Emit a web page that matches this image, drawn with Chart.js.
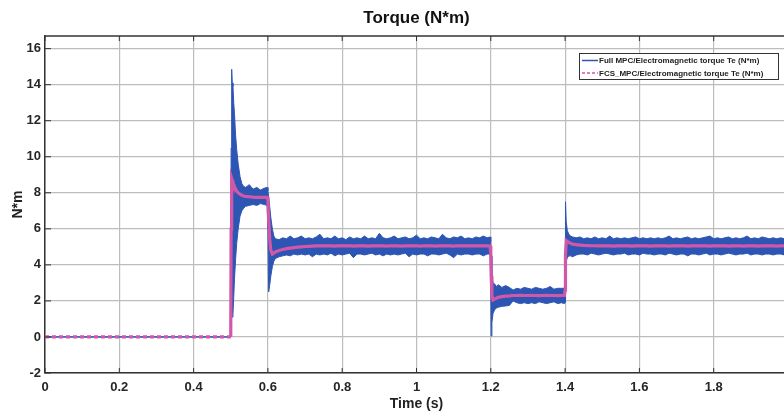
<!DOCTYPE html>
<html lang="en">
<head>
  <meta charset="UTF-8">
  <title>Torque (N*m)</title>
  <style>
    html, body { margin: 0; padding: 0; background: #fff; overflow: hidden; }
    #wrap { width: 800px; height: 416px; }
  </style>
</head>
<body>
  <div id="wrap"><canvas id="torque"></canvas></div>
  <script src="https://cdn.jsdelivr.net/npm/chart.js"></script>
  <script>
    // Tempo (s) das amostras
    const time = [
      0, 0.5, 0.501, 0.5025, 0.504, 0.506, 0.508, 0.51, 0.513, 0.516,
      0.52, 0.525, 0.53, 0.535, 0.54, 0.55, 0.56, 0.57, 0.58, 0.59,
      0.598, 0.6, 0.602, 0.605, 0.608, 0.612, 0.616, 0.62, 0.63, 0.64,
      0.65, 0.66, 0.67, 0.68, 0.69, 0.70, 0.71, 0.72, 0.73, 0.74,
      0.75, 0.76, 0.77, 0.78, 0.79, 0.80, 0.81, 0.82, 0.83, 0.84,
      0.85, 0.86, 0.87, 0.88, 0.89, 0.90, 0.91, 0.92, 0.93, 0.94,
      0.95, 0.96, 0.97, 0.98, 0.99, 1.00, 1.01, 1.02, 1.03, 1.04,
      1.05, 1.06, 1.07, 1.08, 1.09, 1.10, 1.11, 1.12, 1.13, 1.14,
      1.15, 1.16, 1.17, 1.18, 1.19, 1.198, 1.2, 1.201, 1.203, 1.206,
      1.21, 1.215, 1.22, 1.23, 1.24, 1.25, 1.26, 1.27, 1.28, 1.29,
      1.30, 1.31, 1.32, 1.33, 1.34, 1.35, 1.36, 1.37, 1.38, 1.39,
      1.398, 1.4, 1.401, 1.403, 1.406, 1.41, 1.415, 1.42, 1.43, 1.44,
      1.45, 1.46, 1.47, 1.48, 1.49, 1.50, 1.51, 1.52, 1.53, 1.54,
      1.55, 1.56, 1.57, 1.58, 1.59, 1.60, 1.61, 1.62, 1.63, 1.64,
      1.65, 1.66, 1.67, 1.68, 1.69, 1.70, 1.71, 1.72, 1.73, 1.74,
      1.75, 1.76, 1.77, 1.78, 1.79, 1.80, 1.81, 1.82, 1.83, 1.84,
      1.85, 1.86, 1.87, 1.88, 1.89, 1.90, 1.91, 1.92, 1.93, 1.94,
      1.95, 1.96, 1.97, 1.98, 1.99, 2.0
    ];

    // Full MPC: envelope superior do sinal ruidoso
    const fullHi = [
      0, 0, 10.5, 14.85, 14.1, 13.9, 13.0, 12.4, 11.2, 10.4,
      9.6, 8.9, 8.5, 8.35, 8.3, 8.45, 8.2, 8.3, 8.15, 8.25,
      8.3, 8.1, 7.8, 7.2, 6.6, 6.0, 5.6, 5.45, 5.4, 5.5,
      5.45, 5.6, 5.45, 5.5, 5.6, 5.45, 5.5, 5.45, 5.55, 5.7,
      5.45, 5.5, 5.45, 5.6, 5.45, 5.5, 5.4, 5.55, 5.45, 5.5,
      5.45, 5.6, 5.45, 5.5, 5.45, 5.75, 5.5, 5.45, 5.5, 5.6,
      5.45, 5.5, 5.55, 5.45, 5.5, 5.65, 5.45, 5.5, 5.45, 5.55,
      5.5, 5.45, 5.7, 5.5, 5.45, 5.55, 5.5, 5.6, 5.45, 5.5,
      5.45, 5.55, 5.5, 5.6, 5.5, 5.55, 5.3, 4.5, 3.4, 3.0,
      2.95, 2.8, 2.9, 2.75, 2.85, 2.75, 2.6, 2.7, 2.65, 2.75,
      2.7, 2.65, 2.75, 2.7, 2.65, 2.7, 2.8, 2.65, 2.7, 2.7,
      2.7, 3.5, 7.5, 6.4, 5.9, 5.7, 5.6, 5.55, 5.5, 5.55,
      5.45, 5.5, 5.45, 5.55, 5.45, 5.5, 5.45, 5.6, 5.45, 5.5,
      5.45, 5.5, 5.45, 5.5, 5.55, 5.45, 5.5, 5.45, 5.5, 5.45,
      5.5, 5.45, 5.5, 5.6, 5.45, 5.5, 5.45, 5.5, 5.55, 5.45,
      5.5, 5.45, 5.5, 5.55, 5.6, 5.45, 5.5, 5.45, 5.5, 5.55,
      5.45, 5.5, 5.45, 5.5, 5.6, 5.45, 5.5, 5.45, 5.55, 5.5,
      5.45, 5.5, 5.45, 5.5, 5.45, 5.5
    ];

    // Full MPC: envelope inferior
    const fullLo = [
      0, 0, 1.5, 1.2, 1.1, 1.3, 2.2, 3.2, 4.3, 5.2,
      6.0, 6.7, 7.0, 7.15, 7.25, 7.3, 7.35, 7.3, 7.4, 7.35,
      7.3, 6.0, 2.5, 2.9, 3.4, 3.9, 4.2, 4.35, 4.45, 4.5,
      4.55, 4.5, 4.6, 4.55, 4.6, 4.55, 4.6, 4.45, 4.6, 4.55,
      4.6, 4.55, 4.65, 4.5, 4.6, 4.55, 4.6, 4.65, 4.4, 4.6,
      4.6, 4.55, 4.6, 4.65, 4.55, 4.6, 4.5, 4.6, 4.55, 4.6,
      4.55, 4.6, 4.65, 4.45, 4.6, 4.55, 4.6, 4.6, 4.5, 4.6,
      4.6, 4.55, 4.6, 4.65, 4.55, 4.4, 4.6, 4.55, 4.6, 4.6,
      4.55, 4.6, 4.6, 4.5, 4.6, 4.6, 3.0, 0.05, 0.8, 1.3,
      1.5, 1.6, 1.65, 1.7, 1.72, 1.75, 2.0, 1.9, 1.85, 1.9,
      1.85, 1.9, 1.85, 1.95, 1.9, 1.85, 1.9, 1.95, 1.85, 1.9,
      1.85, 1.9, 3.0, 4.2, 4.4, 4.5, 4.5, 4.45, 4.55, 4.6,
      4.6, 4.55, 4.65, 4.6, 4.55, 4.6, 4.65, 4.6, 4.55, 4.6,
      4.6, 4.65, 4.55, 4.6, 4.6, 4.55, 4.65, 4.6, 4.6, 4.55,
      4.6, 4.6, 4.55, 4.65, 4.6, 4.55, 4.6, 4.6, 4.5, 4.6,
      4.6, 4.55, 4.6, 4.65, 4.55, 4.6, 4.6, 4.55, 4.6, 4.65,
      4.6, 4.55, 4.6, 4.6, 4.65, 4.55, 4.6, 4.6, 4.55, 4.6,
      4.6, 4.55, 4.6, 4.6, 4.55, 4.6
    ];

    // FCS_MPC: torque (linha tracejada magenta)
    const fcs = [
      0, 0, 6.0, 8.8, 8.7, 8.55, 8.45, 8.35, 8.2, 8.1,
      8.0, 7.92, 7.86, 7.82, 7.8, 7.78, 7.76, 7.75, 7.75, 7.74,
      7.74, 7.6, 6.5, 5.4, 4.8, 4.6, 4.65, 4.72, 4.8, 4.85,
      4.9, 4.93, 4.96, 4.98, 5.0, 5.02, 5.03, 5.04, 5.05, 5.05,
      5.05, 5.06, 5.05, 5.04, 5.06, 5.05, 5.05, 5.06, 5.04, 5.05,
      5.06, 5.05, 5.04, 5.05, 5.06, 5.05, 5.05, 5.04, 5.06, 5.05,
      5.05, 5.04, 5.06, 5.05, 5.05, 5.06, 5.04, 5.05, 5.05, 5.06,
      5.04, 5.05, 5.06, 5.05, 5.05, 5.04, 5.06, 5.05, 5.05, 5.06,
      5.05, 5.06, 5.05, 5.05, 5.06, 5.05, 4.6, 3.4, 2.3, 2.05,
      2.1, 2.15, 2.2, 2.24, 2.27, 2.28, 2.3, 2.3, 2.31, 2.3,
      2.3, 2.31, 2.3, 2.29, 2.3, 2.31, 2.3, 2.3, 2.29, 2.3,
      2.3, 2.6, 4.5, 5.35, 5.3, 5.25, 5.2, 5.15, 5.12, 5.1,
      5.08, 5.07, 5.06, 5.06, 5.05, 5.05, 5.06, 5.05, 5.04, 5.05,
      5.05, 5.06, 5.05, 5.04, 5.05, 5.06, 5.05, 5.05, 5.04, 5.05,
      5.06, 5.05, 5.05, 5.04, 5.06, 5.05, 5.05, 5.06, 5.04, 5.05,
      5.05, 5.06, 5.05, 5.05, 5.04, 5.06, 5.05, 5.05, 5.06, 5.04,
      5.05, 5.05, 5.06, 5.04, 5.05, 5.06, 5.05, 5.04, 5.05, 5.06,
      5.05, 5.05, 5.04, 5.06, 5.05, 5.05
    ];

    const FULL_LABEL = 'Full MPC/Electromagnetic torque Te (N*m)';
    const FCS_LABEL = 'FCS_MPC/Electromagnetic torque Te (N*m)';
    const BLUE = '#2c55b4';
    const PINK = '#d257a8';
    const FONT = "'Liberation Sans', Arial, sans-serif";

    const pts = arr => time.map((t, i) => ({ x: t, y: arr[i] }));

    // Moldura do gráfico + marcas de escala para dentro (estilo MATLAB)
    const caixa = {
      id: 'caixa',
      afterDatasetsDraw(chart) {
        const { ctx, chartArea: a, scales } = chart;
        ctx.save();
        ctx.strokeStyle = '#333';
        ctx.lineWidth = 1.5;
        ctx.beginPath();
        ctx.moveTo(a.left, a.top); ctx.lineTo(a.right, a.top);
        ctx.stroke();
        ctx.lineWidth = 1;
        ctx.beginPath();
        scales.x.ticks.forEach(t => {
          const px = scales.x.getPixelForValue(t.value);
          ctx.moveTo(px, a.bottom); ctx.lineTo(px, a.bottom - 5);
          ctx.moveTo(px, a.top); ctx.lineTo(px, a.top + 5);
        });
        scales.y.ticks.forEach(t => {
          const py = scales.y.getPixelForValue(t.value);
          ctx.moveTo(a.left, py); ctx.lineTo(a.left + 6, py);
        });
        ctx.stroke();
        ctx.restore();
      }
    };

    // Legenda dentro da área do gráfico, canto superior direito
    const legendaInterna = {
      id: 'legendaInterna',
      afterDraw(chart) {
        const { ctx, chartArea: a } = chart;
        const x = a.right - 209, y = a.top + 17, w = 199, h = 26;
        ctx.save();
        ctx.fillStyle = '#fff';
        ctx.fillRect(x, y, w, h);
        ctx.strokeStyle = '#333';
        ctx.lineWidth = 1;
        ctx.strokeRect(x + 0.5, y + 0.5, w, h);
        const itens = [
          { label: FULL_LABEL, color: BLUE, dash: [], yy: y + 7.5 },
          { label: FCS_LABEL, color: PINK, dash: [3, 2], yy: y + 20 }
        ];
        itens.forEach(it => {
          ctx.strokeStyle = it.color;
          ctx.lineWidth = 1.5;
          ctx.setLineDash(it.dash);
          ctx.beginPath();
          ctx.moveTo(x + 3, it.yy); ctx.lineTo(x + 19, it.yy);
          ctx.stroke();
          ctx.setLineDash([]);
          ctx.fillStyle = '#222';
          ctx.font = 'bold 8px ' + FONT;
          ctx.textBaseline = 'middle';
          ctx.fillText(it.label, x + 20, it.yy + 0.5);
        });
        ctx.restore();
      }
    };

    new Chart(document.getElementById('torque'), {
      type: 'line',
      data: {
        datasets: [
          {
            label: FCS_LABEL, data: pts(fcs),
            borderColor: PINK, borderWidth: 3.2, pointRadius: 0,
            segment: { borderDash: c => c.p0.parsed.x < 0.5 ? [4, 3] : undefined }
          },
          {
            label: '', data: pts(fullLo),
            borderColor: BLUE, borderWidth: 1, pointRadius: 0, fill: false
          },
          {
            label: FULL_LABEL, data: pts(fullHi),
            borderColor: BLUE, backgroundColor: BLUE, borderWidth: 1, pointRadius: 0,
            fill: { target: 1 }
          }
        ]
      },
      options: {
        responsive: true,
        maintainAspectRatio: false,
        animation: false,
        layout: { padding: { left: 0, right: 12, top: 0, bottom: 0 } },
        plugins: {
          legend: { display: false },
          tooltip: { enabled: false },
          title: {
            display: true, text: 'Torque (N*m)', fullSize: false,
            color: '#111', font: { family: FONT, size: 17, weight: 'bold' },
            padding: { top: 8, bottom: 7.6 }
          }
        },
        scales: {
          x: {
            type: 'linear', min: 0, max: 2,
            afterFit: s => { s.height = 43; },
            grid: { color: '#bdbdbd', lineWidth: 1.2, drawTicks: false },
            border: { color: '#333', width: 1.5 },
            ticks: {
              stepSize: 0.2, padding: 7, color: '#262626', maxRotation: 0,
              font: { family: FONT, size: 13, weight: 'bold' },
              callback: v => +v.toFixed(1)
            },
            title: {
              display: true, text: 'Time (s)', color: '#222',
              font: { family: FONT, size: 14, weight: 'bold' },
              padding: { top: 0, bottom: 3.6 }
            }
          },
          y: {
            min: -2, max: 16.7,
            afterFit: s => { s.width = 45; },
            grid: { color: '#bdbdbd', lineWidth: 1.2, drawTicks: false },
            border: { color: '#333', width: 1.5 },
            ticks: {
              stepSize: 2, padding: 4, color: '#262626', includeBounds: false,
              font: { family: FONT, size: 13, weight: 'bold' }
            },
            title: {
              display: true, text: 'N*m', color: '#222',
              font: { family: FONT, size: 14, weight: 'bold' },
              padding: { top: 10, bottom: 2 }
            }
          }
        }
      },
      plugins: [caixa, legendaInterna]
    });
  </script>
</body>
</html>
